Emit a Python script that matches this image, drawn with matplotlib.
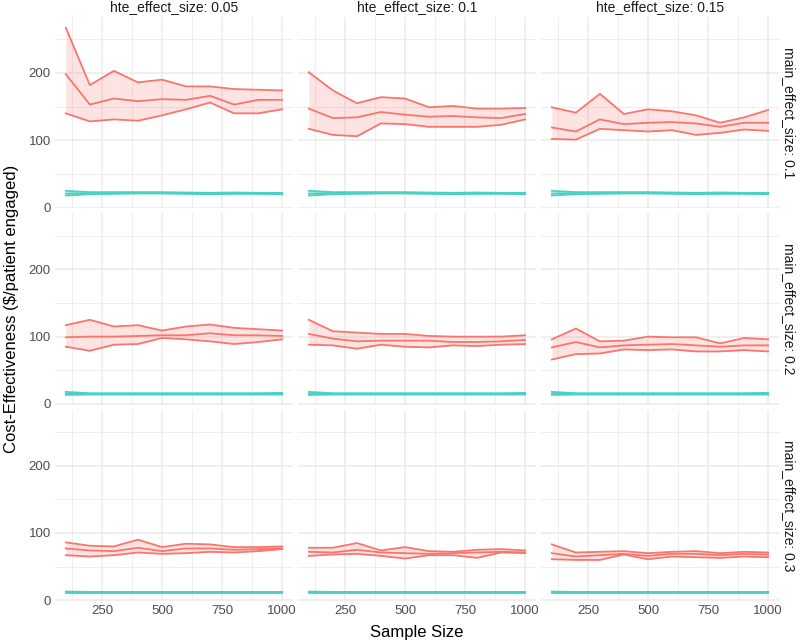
import matplotlib
matplotlib.use("Agg")
import matplotlib.pyplot as plt
import numpy as np

plt.rcParams['font.family'] = ['Liberation Sans', 'DejaVu Sans']

sample_size = [100, 200, 300, 400, 500, 600, 700, 800, 900, 1000]
hte_levels = ["0.05", "0.1", "0.15"]
main_levels = ["0.1", "0.2", "0.3"]

# red series (lower, middle, upper) per (main, hte)
red = {
    ("0.1", "0.05"): (
        [140, 128, 131, 129, 137, 146, 156, 140, 140, 146],
        [198, 153, 162, 158, 161, 160, 166, 153, 160, 160],
        [267, 182, 203, 186, 190, 180, 180, 176, 175, 174]),
    ("0.1", "0.1"): (
        [117, 108, 106, 125, 124, 120, 120, 120, 123, 131],
        [147, 133, 134, 142, 138, 135, 136, 134, 133, 139],
        [201, 174, 155, 164, 162, 149, 151, 147, 147, 148]),
    ("0.1", "0.15"): (
        [102, 101, 117, 115, 113, 115, 108, 111, 116, 114],
        [119, 113, 131, 124, 126, 127, 125, 120, 126, 126],
        [149, 141, 169, 139, 146, 143, 137, 126, 134, 145]),
    ("0.2", "0.05"): (
        [85, 79, 88, 89, 98, 96, 93, 89, 92, 96],
        [99, 100, 100, 101, 102, 102, 105, 102, 102, 101],
        [117, 125, 115, 117, 109, 115, 118, 113, 111, 109]),
    ("0.2", "0.1"): (
        [88, 87, 82, 88, 85, 84, 87, 86, 88, 89],
        [104, 97, 93, 94, 94, 94, 92, 92, 93, 95],
        [125, 108, 106, 104, 104, 101, 100, 100, 100, 102]),
    ("0.2", "0.15"): (
        [66, 74, 75, 81, 80, 81, 78, 78, 80, 78],
        [84, 92, 84, 87, 88, 89, 87, 85, 87, 87],
        [96, 112, 93, 94, 100, 99, 99, 90, 98, 96]),
    ("0.3", "0.05"): (
        [67, 65, 67, 71, 69, 70, 72, 71, 73, 76],
        [77, 74, 73, 78, 73, 77, 77, 75, 76, 77],
        [86, 81, 80, 90, 79, 84, 83, 79, 79, 80]),
    ("0.3", "0.1"): (
        [66, 68, 69, 66, 62, 67, 67, 63, 71, 70],
        [72, 71, 75, 71, 70, 69, 70, 71, 72, 71],
        [78, 78, 85, 74, 79, 73, 72, 75, 76, 74]),
    ("0.3", "0.15"): (
        [61, 60, 60, 68, 61, 65, 64, 63, 65, 64],
        [70, 65, 67, 69, 66, 69, 69, 67, 69, 68],
        [83, 71, 72, 73, 70, 72, 73, 70, 72, 71]),
}

# teal series (lower, middle, upper) per main effect level
teal = {
    "0.1": ([18, 20, 20.5, 21, 21, 20.5, 20, 20.5, 20.5, 20],
            [21, 21.5, 22, 22, 22, 21.5, 21, 21.5, 21.5, 21],
            [25, 23, 23, 23, 23, 22.5, 22, 22.5, 22, 22]),
    "0.2": ([13.5, 14, 14, 14, 14, 14, 14, 14, 14, 14],
            [15.5, 15, 15, 15, 15, 15, 15, 15, 15, 15],
            [18, 16, 16, 16, 16, 16, 16, 16, 16, 16.5]),
    "0.3": ([11.5, 11.5, 11.5, 11.5, 11.5, 11.5, 11.5, 11.5, 11.5, 11.5],
            [12, 12, 12, 12, 12, 12, 12, 12, 12, 12],
            [13, 12.5, 12.5, 12.5, 12.5, 12.5, 12.5, 12.5, 12.5, 12.5]),
}

RED = "#F8766D"
TEAL = "#48D1C4"

W, H = 800, 644
fig = plt.figure(figsize=(W / 100, H / 100), dpi=100)

left0, right_end = 55, 779
top0, bottom_end = 17, 601
gap = 5
pw = (right_end - left0 - 2 * gap) / 3
ph = (bottom_end - top0 - 2 * gap) / 3

for r, m in enumerate(main_levels):
    for c, h in enumerate(hte_levels):
        x0 = left0 + c * (pw + gap)
        y0 = top0 + r * (ph + gap)
        ax = fig.add_axes([x0 / W, 1 - (y0 + ph) / H, pw / W, ph / H])
        ax.set_xlim(55, 1045)
        ax.set_ylim(-1, 283)
        # grid
        for v in [125, 375, 625, 875]:
            ax.axvline(v, color="#EBEBEB", lw=0.6, zorder=0)
        for v in [250, 500, 750, 1000]:
            ax.axvline(v, color="#EBEBEB", lw=1.1, zorder=0)
        for v in [50, 150, 250]:
            ax.axhline(v, color="#EBEBEB", lw=0.6, zorder=0)
        for v in [0, 100, 200]:
            ax.axhline(v, color="#EBEBEB", lw=1.1, zorder=0)
        lo, mid, up = red[(m, h)]
        ax.fill_between(sample_size, lo, up, color=RED, alpha=0.2, lw=0)
        for s in (lo, mid, up):
            ax.plot(sample_size, s, color=RED, lw=1.3)
        tlo, tmid, tup = teal[m]
        ax.fill_between(sample_size, tlo, tup, color=TEAL, alpha=0.2, lw=0)
        for s in (tlo, tmid, tup):
            ax.plot(sample_size, s, color=TEAL, lw=1.3)
        for sp in ax.spines.values():
            sp.set_visible(False)
        ax.set_xticks([250, 500, 750, 1000])
        ax.set_yticks([0, 100, 200])
        ax.tick_params(length=0, colors="#4D4D4D", labelsize=9.5, pad=3)
        if c != 0:
            ax.set_yticklabels([])
        if r != 2:
            ax.set_xticklabels([])
        if r == 0:
            ax.set_title(f"hte_effect_size: {h}", fontsize=10, color="#1A1A1A", pad=4)
        if c == 2:
            yc = y0 + ph / 2
            fig.text(789 / W, 1 - yc / H, f"main_effect_size: {m}",
                     rotation=-90, va="center", ha="center", fontsize=10, color="#1A1A1A")

fig.text(12 / W, 1 - 309 / H, "Cost-Effectiveness ($/patient engaged)", rotation=90,
         va="center", ha="center", fontsize=12, color="#000000")
fig.text(417 / W, 1 - 633 / H, "Sample Size", va="center", ha="center",
         fontsize=12, color="#000000")

fig.savefig("out.png", dpi=100, facecolor="white")
